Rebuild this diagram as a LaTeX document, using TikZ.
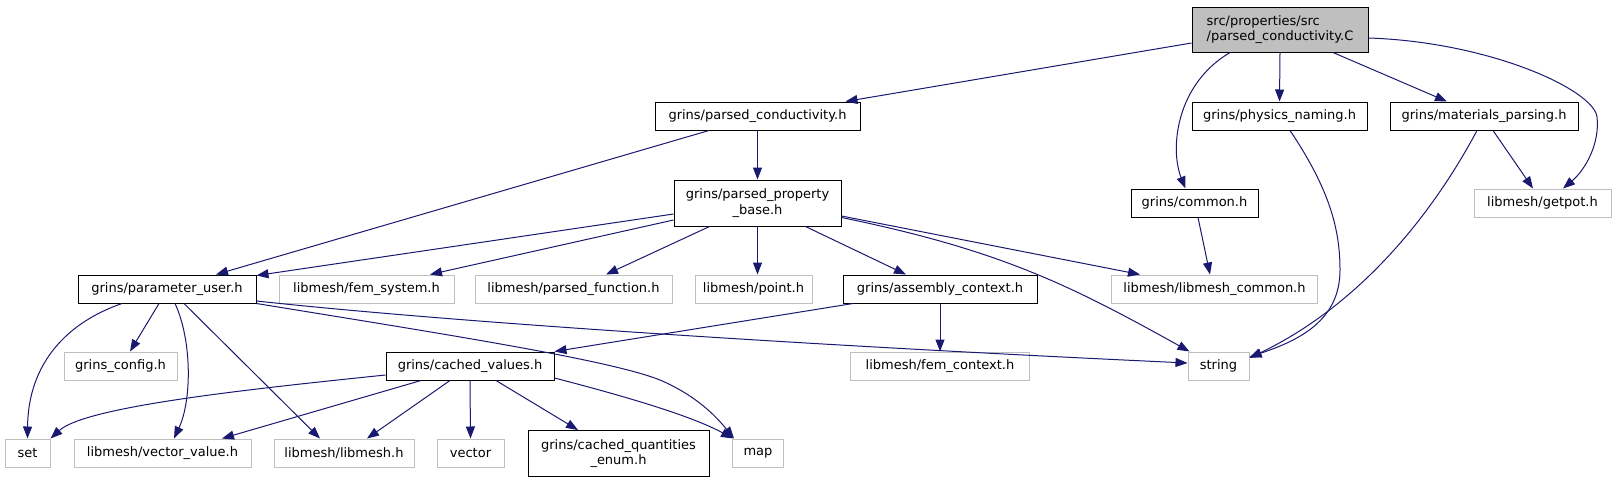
\documentclass[tikz,border=0pt]{standalone}
\usepackage{fontspec}
\setmainfont{DejaVu Sans}
\usetikzlibrary{arrows.meta}
\definecolor{edgec}{HTML}{191970}
\definecolor{grayb}{HTML}{BFBFBF}
\begin{document}
\begin{tikzpicture}[x=1pt,y=-1pt,
  box/.style={draw=black,line width=1pt,rectangle,inner sep=0pt,minimum height=28pt,font=\fontsize{13}{15.5}\selectfont},
  ext/.style={box,draw=grayb},
  edge/.style={draw=edgec,line width=1pt,-{Triangle[length=12pt,width=9pt]}},
]
\useasboundingbox (0,0) rectangle (1616,483);
\node[box,fill=grayb,minimum width=176pt,minimum height=45pt,align=left] (main) at (1280,29.5) {src/properties/src\\/parsed\_conductivity.C};
\node[box,minimum width=205pt] (pc) at (757.5,116) {grins/parsed\_conductivity.h};
\node[box,minimum width=167pt,minimum height=46pt,align=center] (ppb) at (757.5,203) {grins/parsed\_property\\\_base.h};
\node[box,minimum width=175pt] (phys) at (1279.5,116) {grins/physics\_naming.h};
\node[box,minimum width=188pt] (mp) at (1484,116) {grins/materials\_parsing.h};
\node[box,minimum width=127pt] (common) at (1194.5,203) {grins/common.h};
\node[ext,minimum width=137pt] (getpot) at (1542.5,203) {libmesh/getpot.h};
\node[box,minimum width=178pt] (pu) at (167,289) {grins/parameter\_user.h};
\node[ext,minimum width=175pt] (fs) at (366.5,289) {libmesh/fem\_system.h};
\node[ext,minimum width=197pt] (pf) at (573.5,289) {libmesh/parsed\_function.h};
\node[ext,minimum width=117pt] (point) at (753.5,289) {libmesh/point.h};
\node[box,minimum width=194pt] (ac) at (940,289) {grins/assembly\_context.h};
\node[ext,minimum width=206pt] (lc) at (1214.5,289) {libmesh/libmesh\_common.h};
\node[ext,minimum width=113pt] (gc) at (120.5,366) {grins\_config.h};
\node[box,minimum width=168pt] (cv) at (470,366) {grins/cached\_values.h};
\node[ext,minimum width=179pt] (fc) at (940,366) {libmesh/fem\_context.h};
\node[ext,minimum width=61pt] (str) at (1218.5,366) {string};
\node[ext,minimum width=45pt] (set) at (27.5,453) {set};
\node[ext,minimum width=177pt] (vv) at (162.5,453) {libmesh/vector\_value.h};
\node[ext,minimum width=140pt] (lm) at (344,453) {libmesh/libmesh.h};
\node[ext,minimum width=67pt] (vec) at (470.5,453) {vector};
\node[box,minimum width=181pt,minimum height=46pt,align=center] (cqe) at (618.5,453.5) {grins/cached\_quantities\\\_enum.h};
\node[ext,minimum width=51pt] (map) at (758,453) {map};

\draw[edge] ([yshift=-13.5pt]main.west) -- ([xshift=88pt]pc.north);
\draw[edge] ([xshift=-50pt]main.south) .. controls (1175,85) and (1170,150) .. ([xshift=-9pt]common.north);
\draw[edge] (main.south) -- (phys.north);
\draw[edge] ([xshift=53pt]main.south) -- ([xshift=-37pt]mp.north);
\draw[edge] ([yshift=-8.5pt]main.east) .. controls (1490,42) and (1594,90) .. (1597,117) .. controls (1600,144) and (1585,170) .. ([xshift=20.5pt]getpot.north);
\draw[edge] ([xshift=-48.5pt]pc.south) -- ([xshift=49pt]pu.north);
\draw[edge] (pc.south) -- (ppb.north);
\draw[edge] ([yshift=-11pt]ppb.west) -- ([yshift=-1pt]pu.north east);
\draw[edge] ([yshift=-17pt]ppb.west) -- ([xshift=63.5pt]fs.north);
\draw[edge] ([xshift=-48pt]ppb.south) -- ([xshift=32.5pt]pf.north);
\draw[edge] (ppb.south) -- (ppb.south |- point.north);
\draw[edge] ([xshift=48pt]ppb.south) -- ([xshift=-34pt]ac.north);
\draw[edge] ([yshift=-13pt]ppb.east) -- ([xshift=-74.5pt]lc.north);
\draw[edge] ([yshift=-14.5pt]ppb.east) .. controls (1000,250) and (1070,285) .. ([xshift=2pt]str.north west);
\draw[edge] ([xshift=10.5pt]phys.south) .. controls (1330,190) and (1340,230) .. (1340,270) .. controls (1340,320) and (1300,340) .. ([yshift=9pt]str.east);
\draw[edge] ([xshift=9pt]mp.south) -- ([xshift=-9.5pt]getpot.north);
\draw[edge] ([xshift=-7pt]mp.south) .. controls (1440,200) and (1370,300) .. ([yshift=8pt]str.east);
\draw[edge] ([xshift=3.5pt]common.south) -- ([xshift=-4.5pt]lc.north);
\draw[edge] ([xshift=-45pt]pu.south) .. controls (60,325) and (28,370) .. (set.north);
\draw[edge] ([xshift=-8pt]pu.south) -- ([xshift=9.5pt]gc.north);
\draw[edge] ([xshift=8pt]pu.south) .. controls (192,340) and (192,400) .. ([xshift=11.5pt]vv.north);
\draw[edge] ([xshift=17pt]pu.south) -- ([xshift=-24pt]lm.north);
\draw[edge] ([yshift=-12pt]pu.east) .. controls (450,322) and (800,345) .. ([yshift=3pt]str.west);
\draw[edge] (pu.south east) .. controls (450,335) and (610,360) .. (660,380) .. controls (695,395) and (715,415) .. ([xshift=2pt]map.north west);
\draw[edge] ([xshift=-87pt]ac.south) -- (cv.north east);
\draw[edge] (ac.south) -- (fc.north);
\draw[edge] ([yshift=-9pt]cv.west) .. controls (240,390) and (85,407) .. (set.north east);
\draw[edge] ([xshift=-49pt]cv.south) -- ([xshift=59.5pt]vv.north);
\draw[edge] ([xshift=-20pt]cv.south) -- ([xshift=23pt]lm.north);
\draw[edge] (cv.south) -- (vec.north);
\draw[edge] ([xshift=26pt]cv.south) -- ([xshift=-40.5pt]cqe.north);
\draw[edge] ([yshift=-12pt]cv.east) .. controls (620,395) and (690,415) .. ([xshift=1pt]map.north west);
\end{tikzpicture}
\end{document}
